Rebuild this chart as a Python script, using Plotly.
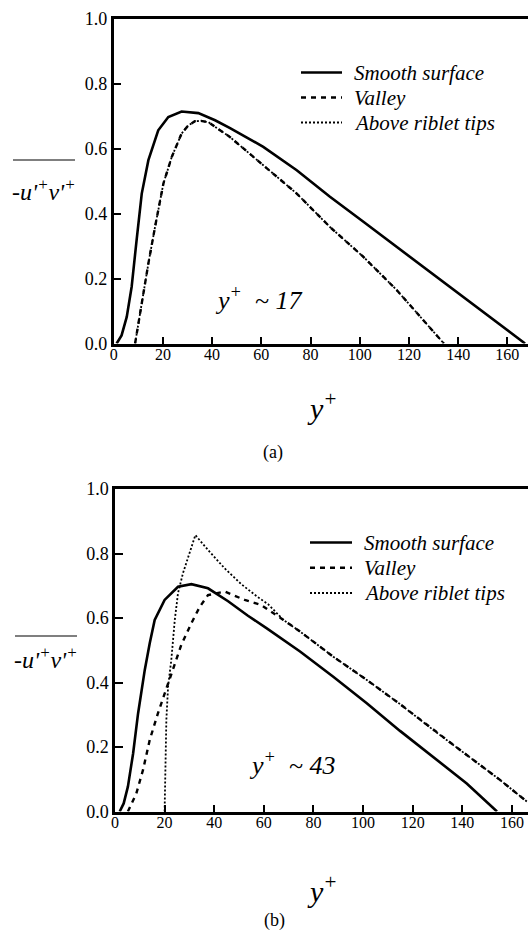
import plotly.graph_objects as go
from plotly.subplots import make_subplots

# ---------------- data ----------------
# Panel (a): y+ ~ 17
a_smooth_x = [1.2, 3.2, 5.3, 7.3, 9.3, 11.4, 14.1, 18.1, 22.2, 27.6, 34.4, 41.2, 47.3, 60.8, 74.4, 87.9, 101.5, 115, 128.6, 141.5, 154.5, 167.2]
a_smooth_y = [0, 0.025, 0.082, 0.175, 0.318, 0.462, 0.565, 0.657, 0.698, 0.715, 0.71, 0.688, 0.664, 0.606, 0.534, 0.452, 0.375, 0.298, 0.221, 0.148, 0.075, 0.0]

a_valley_x = [8.7, 10, 11.4, 14.1, 16.8, 20.2, 23.6, 27.6, 30.3, 33.0, 35.5, 38.5, 47.3, 60.8, 74.4, 87.9, 101.5, 115, 127.2, 134.2]
a_valley_y = [0, 0.06, 0.134, 0.247, 0.359, 0.493, 0.575, 0.647, 0.672, 0.685, 0.686, 0.682, 0.636, 0.549, 0.462, 0.359, 0.267, 0.165, 0.062, 0]

a_tips_x = [8.7, 10, 11.4, 14.1, 16.8, 20.2, 23.6, 27.6, 30.3, 33.0, 35.5, 38.5, 47.3, 60.8, 74.4, 87.9, 101.5, 115, 127.2, 134.2]
a_tips_y = [0, 0.06, 0.134, 0.247, 0.359, 0.493, 0.575, 0.647, 0.672, 0.685, 0.686, 0.682, 0.636, 0.549, 0.462, 0.359, 0.267, 0.165, 0.062, 0]

# Panel (b): y+ ~ 43
b_smooth_x = [1.9, 3.5, 5.2, 7.3, 9.3, 12.0, 14.0, 16.0, 20.0, 25.4, 30.8, 37.5, 45.6, 53.6, 61.2, 74.6, 88, 101.5, 114.9, 128.3, 141.8, 154]
b_smooth_y = [0, 0.025, 0.077, 0.18, 0.304, 0.439, 0.522, 0.594, 0.656, 0.697, 0.705, 0.692, 0.652, 0.607, 0.568, 0.496, 0.418, 0.336, 0.25, 0.17, 0.087, 0]

b_valley_x = [5.2, 8.6, 11.3, 14.0, 17.3, 20.0, 23.4, 26.7, 30.8, 34.2, 37.5, 44.2, 52.3, 59.0, 67.9, 74.6, 88, 101.5, 114.9, 128.3, 141.8, 155.2, 166.5]
b_valley_y = [0, 0.056, 0.129, 0.222, 0.304, 0.366, 0.439, 0.516, 0.584, 0.635, 0.671, 0.682, 0.656, 0.64, 0.594, 0.558, 0.48, 0.408, 0.333, 0.253, 0.175, 0.098, 0.028]

b_tips_x = [20.0, 20.3, 20.7, 21.4, 22.7, 24.1, 25.4, 27.4, 30.1, 32.4, 37.5, 44.2, 50.9, 57.7, 61.7, 67.9, 74.6, 88, 101.5, 114.9, 128.3, 141.8, 155.2, 166.5]
b_tips_y = [0, 0.18, 0.284, 0.387, 0.47, 0.594, 0.677, 0.739, 0.801, 0.857, 0.811, 0.754, 0.705, 0.664, 0.643, 0.594, 0.558, 0.48, 0.408, 0.333, 0.253, 0.175, 0.098, 0.028]

series_names = ["Smooth surface", "Valley", "Above riblet tips"]
x_ticks = [0, 20, 40, 60, 80, 100, 120, 140, 160]
y_ticks = [0.0, 0.2, 0.4, 0.6, 0.8, 1.0]
y_ticktext = ["0.0", "0.2", "0.4", "0.6", "0.8", "1.0"]
panel_labels = ["(a)", "(b)"]
panel_notes = ["17", "43"]

# ---------------- figure ----------------
W, H = 528, 930
SERIF = "Liberation Serif, Times New Roman, DejaVu Serif, serif"

fig = make_subplots(rows=2, cols=1)

styles = [
    dict(color="black", width=2.6, dash="solid"),
    dict(color="black", width=2.4, dash="5px,5px"),
    dict(color="black", width=1.8, dash="2px,2px"),
]

panels = [
    (a_smooth_x, a_smooth_y, a_valley_x, a_valley_y, a_tips_x, a_tips_y),
    (b_smooth_x, b_smooth_y, b_valley_x, b_valley_y, b_tips_x, b_tips_y),
]

for i, (sx, sy, vx, vy, tx, ty) in enumerate(panels):
    for name, xs, ys, st in zip(series_names, [sx, vx, tx], [sy, vy, ty], styles):
        fig.add_trace(
            go.Scatter(x=xs, y=ys, mode="lines", name=name, line=st,
                       showlegend=False),
            row=i + 1, col=1,
        )

def px_x(p):
    return p / W

def px_y(p):
    return 1 - p / H

axis_common = dict(
    showgrid=False, zeroline=False, showline=True, linecolor="black",
    ticks="inside", tickcolor="black", automargin=False,
)

fig.update_xaxes(**axis_common, linewidth=2.5, mirror=True, tickwidth=1.5, ticklen=7,
                 tickvals=x_ticks, ticklabelstandoff=-5,
                 tickfont=dict(family=SERIF, size=16, color="black"))
fig.update_yaxes(**axis_common, linewidth=2.5, tickwidth=1.5, ticklen=8,
                 tickvals=y_ticks, ticktext=y_ticktext, range=[0, 1.0],
                 tickfont=dict(family=SERIF, size=18, color="black"))

fig.update_layout(
    xaxis=dict(domain=[px_x(113.7), 1.0], range=[0, 168.4]),
    yaxis=dict(domain=[px_y(343.5), px_y(19)]),
    xaxis2=dict(domain=[px_x(115), 1.0], range=[0, 166.5]),
    yaxis2=dict(domain=[px_y(811.5), px_y(489)]),
)

fig.update_layout(
    width=W, height=H,
    margin=dict(l=0, r=0, t=0, b=0, autoexpand=False),
    paper_bgcolor="white", plot_bgcolor="white",
    font=dict(family=SERIF, size=17, color="black"),
    showlegend=False,
)

ann = []

def add_text(text, x, y, size, italic=False, xanchor="center"):
    f = dict(family=SERIF, size=size, color="black")
    if italic:
        f["style"] = "italic"
    ann.append(dict(text=text, x=px_x(x), y=px_y(y), xref="paper", yref="paper",
                    xanchor=xanchor, yanchor="middle", showarrow=False, font=f))

note_pos = [(258, 298), (292, 763)]
xt_pos = [(322, 406), (322, 889)]
lab_pos = [(273, 452), (274, 920)]
yt_pos = [(44, 190), (46, 658)]
for i in range(2):
    add_text("y<sup>+</sup>  ~ " + panel_notes[i], *note_pos[i], size=26, italic=True)
    add_text("y<sup>+</sup>", *xt_pos[i], size=30, italic=True)
    add_text(panel_labels[i], *lab_pos[i], size=18)
    add_text("-u'<sup>+</sup>v'<sup>+</sup>", *yt_pos[i], size=24, italic=True)

# legend keys (drawn as shapes + text so the compact spacing of the original is kept)
legend_rows = [[72.5, 97.5, 122.5], [542.5, 567.7, 593]]
legend_key_x = [(301, 342), (310, 352)]
legend_text_x = [352, 362]
for i in range(2):
    for name, st, ry in zip(series_names, styles, legend_rows[i]):
        fig.add_shape(type="line", xref="paper", yref="paper",
                      x0=px_x(legend_key_x[i][0]), x1=px_x(legend_key_x[i][1]),
                      y0=px_y(ry), y1=px_y(ry),
                      line=dict(color="black", width=st["width"], dash=st["dash"]))
        add_text(name, legend_text_x[i], ry, size=21, italic=True, xanchor="left")

fig.update_layout(annotations=ann)

# overbars of the y-axis title
for (x0, x1, yy) in [(13, 75, 160), (15, 77, 636)]:
    fig.add_shape(type="line", xref="paper", yref="paper",
                  x0=px_x(x0), x1=px_x(x1), y0=px_y(yy), y1=px_y(yy),
                  line=dict(color="black", width=1.2))

fig.write_html("out.html", config={"displayModeBar": False},
               post_script="document.body.style.margin='0';document.body.style.overflow='hidden';")
